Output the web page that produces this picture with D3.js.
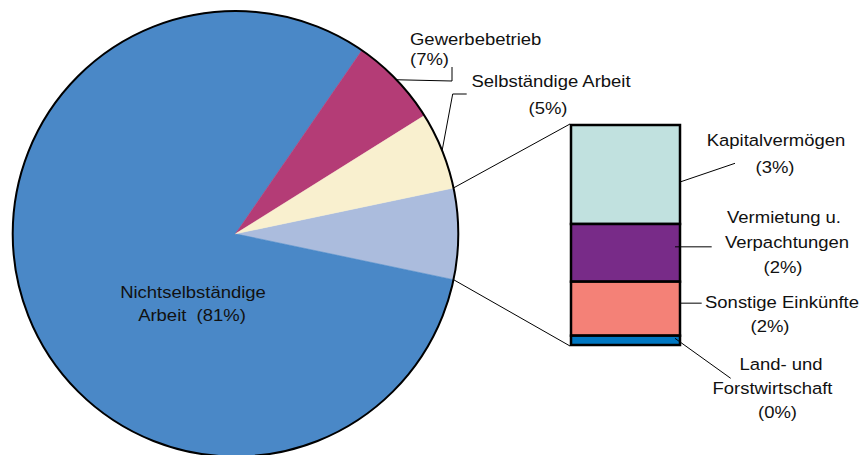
<!DOCTYPE html>
<html>
<head>
<meta charset="utf-8">
<script src="https://cdn.jsdelivr.net/npm/d3@7"></script>
<style>
body { margin: 0; background: #fff; }
text { font-family: "Liberation Sans", Arial, sans-serif; font-size: 16.8px; fill: #111; white-space: pre; }
</style>
</head>
<body>
<div class="visual-data"></div>
<script>
// Values (percent of total)
const pieCategories = ["Nichtselbständige Arbeit", "Gewerbebetrieb", "Selbständige Arbeit"];
const pieValues = [81.3, 6.5, 5.6];
const pieLabels = ["81%", "7%", "5%"];
const barCategories = ["Kapitalvermögen", "Vermietung u. Verpachtungen", "Sonstige Einkünfte", "Land- und Forstwirtschaft"];
const barValues = [2.97, 1.73, 1.62, 0.28];
const barLabels = ["3%", "2%", "2%", "0%"];

const width = 862;
const height = 455;
const cx = 235.5, cy = 233.8, radius = 222.8;
const barX = 571, barW = 109, barTop = 125, barBottom = 345;

const pieColors = ["#4A88C7", "#B43C76", "#F9F0CF"];
const otherColor = "#ABBCDD";
const barColors = ["#C1E1DF", "#782B88", "#F48177", "#0077C2"];

var svg = d3.select(".visual-data")
            .append("svg")
            .attr("width", width)
            .attr("height", height)
            .style("display", "block");

//Pie: the combined "other" slice is centered on the right side
const otherSum = d3.sum(barValues);
const total = d3.sum(pieValues) + otherSum;
const start = Math.PI / 2 - (otherSum / total) * Math.PI;
const pieData = [{name: "other", value: otherSum, color: otherColor}]
  .concat(pieCategories.map((c, i) => ({name: c, value: pieValues[i], color: pieColors[i], label: pieLabels[i]})));

const pie = d3.pie().sort(null).value(d => d.value).startAngle(start).endAngle(start + 2 * Math.PI);
const arcs = pie(pieData);
const arc = d3.arc().innerRadius(0).outerRadius(radius);

const pieG = svg.append("g").attr("transform", "translate(" + cx + "," + cy + ")");
pieG.selectAll("path.slice")
    .data(arcs)
    .enter()
    .append("path")
    .attr("class", "slice")
    .attr("d", arc)
    .style("fill", d => d.data.color)
    .style("stroke", d => d.data.color)
    .style("stroke-width", 0.5);
pieG.append("circle")
    .attr("r", radius)
    .style("fill", "none")
    .style("stroke", "#000")
    .style("stroke-width", 2);

const edgePoint = (a) => [cx + radius * Math.sin(a), cy - radius * Math.cos(a)];

//Bar of the "other" slice
const yScale = d3.scaleLinear().domain([0, otherSum]).range([barTop, barBottom]);
let acc = 0;
const barData = barCategories.map((c, i) => {
  const d = {name: c, value: barValues[i], y0: acc, y1: acc + barValues[i], color: barColors[i], label: barLabels[i]};
  acc += barValues[i];
  return d;
});
svg.selectAll("rect.seg")
   .data(barData)
   .enter()
   .append("rect")
   .attr("class", "seg")
   .attr("x", barX)
   .attr("y", d => yScale(d.y0))
   .attr("width", barW)
   .attr("height", d => yScale(d.y1) - yScale(d.y0))
   .style("fill", d => d.color)
   .style("stroke", "#000")
   .style("stroke-width", 2.5);

//Connector lines pie -> bar
const otherArc = arcs[0];
const p1 = edgePoint(otherArc.startAngle), p2 = edgePoint(otherArc.endAngle);
svg.append("line").attr("x1", p1[0]).attr("y1", p1[1]).attr("x2", barX - 1).attr("y2", yScale(0) - 1)
   .style("stroke", "#000").style("stroke-width", 1);
svg.append("line").attr("x1", p2[0]).attr("y1", p2[1]).attr("x2", barX - 1).attr("y2", yScale(otherSum) + 1)
   .style("stroke", "#000").style("stroke-width", 1);

//Labels
function label(x, y, lines, anchor, lh) {
  const g = svg.append("g").attr("transform", "translate(" + x + "," + y + ")");
  lines.forEach((t, i) => {
    g.append("text")
     .attr("transform", "translate(" + (t.dx || 0) + "," + (i * lh) + ") scale(1.1,1)")
     .attr("text-anchor", anchor)
     .text(t.s);
  });
}
function leader(points) {
  svg.append("path")
     .attr("d", d3.line()(points))
     .style("fill", "none")
     .style("stroke", "#000")
     .style("stroke-width", 1);
}

// Nichtselbständige Arbeit
label(193, 298, [{s: "Nichtselbständige"}, {s: "Arbeit  (" + pieLabels[0] + ")", dx: -1}], "middle", 23);
// Gewerbebetrieb
label(410, 45, [{s: "Gewerbebetrieb"}, {s: "(" + pieLabels[1] + ")"}], "start", 20);
const gMid = (arcs[2].startAngle + arcs[2].endAngle) / 2;
leader([edgePoint(gMid), [452, 81], [452, 67]]);
// Selbständige Arbeit
label(551, 87, [{s: "Selbständige Arbeit"}, {s: "(" + pieLabels[2] + ")", dx: -3}], "middle", 26.5);
const sMid = (arcs[3].startAngle + arcs[3].endAngle) / 2;
leader([edgePoint(sMid), [452.7, 94], [466.7, 94]]);

// Bar labels
const segMid = d => yScale((d.y0 + d.y1) / 2);
label(776, 146, [{s: "Kapitalvermögen"}, {s: "(" + barLabels[0] + ")", dx: -1}], "middle", 26.5);
leader([[barX + barW, segMid(barData[0]) + 7.5], [735, 163.3]]);
label(784, 223, [{s: "Vermietung u."}, {s: "Verpachtungen", dx: 3}, {s: "(" + barLabels[1] + ")", dx: -1}], "middle", 25);
leader([[675, segMid(barData[1]) - 6], [711.7, segMid(barData[1]) - 6]]);
label(782, 308, [{s: "Sonstige Einkünfte"}, {s: "(" + barLabels[2] + ")", dx: -12}], "middle", 24);
leader([[barX + barW, segMid(barData[2]) - 5.5], [701.7, segMid(barData[2]) - 5.5]]);
label(781, 370, [{s: "Land- und"}, {s: "Forstwirtschaft", dx: -8.5}, {s: "(" + barLabels[3] + ")", dx: -3.5}], "middle", 24.2);
leader([[675, segMid(barData[3]) - 2], [730.7, 378.3]]);
</script>
</body>
</html>
